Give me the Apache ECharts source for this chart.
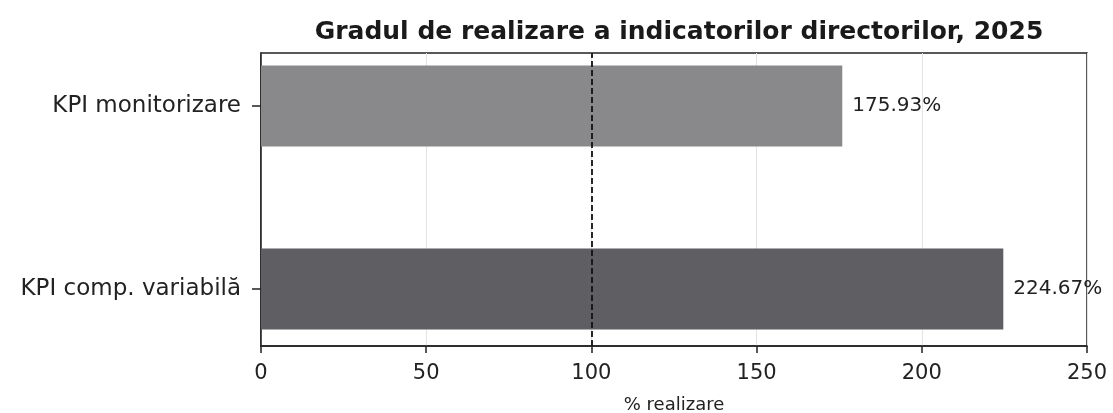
<!DOCTYPE html>
<html>
<head>
<meta charset="utf-8">
<script src="https://cdn.jsdelivr.net/npm/echarts@6/dist/echarts.min.js"></script>
<style>
  html, body { margin: 0; padding: 0; background: #fff; }
  #chart { width: 1113px; height: 413px; }
</style>
</head>
<body>
<div id="chart"></div>
<script>
// date
const categories = ['KPI monitorizare', 'KPI comp. variabilă'];
const values = [175.93, 224.67];
const barColors = ['#89898b', '#5f5f63'];
const xTicks = [0, 50, 100, 150, 200, 250];
const targetLine = 100;

const FONT = "'DejaVu Sans', sans-serif";
const chart = echarts.init(document.getElementById('chart'));

chart.setOption({
    animation: false,
    title: {
        text: 'Gradul de realizare a indicatorilor directorilor, 2025',
        left: 674,
        textAlign: 'center',
        top: 15,
        textStyle: { fontFamily: FONT, fontSize: 25, fontWeight: 'bold', color: '#1a1a1a' }
    },
    grid: [
        // cadrul graficului + axa X
        { left: 261, right: 26, top: 53, bottom: 67, outerBoundsMode: 'none', show: true, borderColor: '#222', borderWidth: 1.5, backgroundColor: 'transparent' },
        // zona barelor (benzi de categorii)
        { left: 261, right: 26, top: 14.5, bottom: 32.5, outerBoundsMode: 'none' }
    ],
    xAxis: [{
        gridIndex: 0,
        type: 'value',
        min: 0,
        max: 250,
        interval: 50,
        name: '% realizare',
        nameLocation: 'middle',
        nameGap: 50,
        nameTextStyle: { fontFamily: FONT, fontSize: 18, color: '#222' },
        axisLine: { show: true, lineStyle: { color: '#222', width: 1.5 } },
        axisTick: { show: true, length: 7, lineStyle: { color: '#222', width: 1.5 } },
        axisLabel: { fontFamily: FONT, fontSize: 21, color: '#222', margin: 17 },
        splitLine: { show: true, lineStyle: { color: '#e3e3e3', width: 1 } }
    }, {
        gridIndex: 1,
        type: 'value',
        min: 0,
        max: 250,
        show: false
    }],
    yAxis: [{
        gridIndex: 0,
        type: 'value',
        min: 0,
        max: 1,
        axisLine: { show: true, lineStyle: { color: '#222', width: 1.5 } },
        axisTick: { show: false },
        axisLabel: { show: false },
        splitLine: { show: false }
    }, {
        gridIndex: 1,
        type: 'category',
        inverse: true,
        data: categories,
        axisLine: { show: false },
        axisTick: { show: true, alignWithLabel: true, length: 9, lineStyle: { color: '#222', width: 1.5 } },
        axisLabel: { fontFamily: FONT, fontSize: 23, color: '#222', margin: 20 }
    }],
    series: [{
        type: 'bar',
        xAxisIndex: 1,
        yAxisIndex: 1,
        barWidth: 81,
        data: values.map((v, i) => ({ value: v, itemStyle: { color: barColors[i] } })),
        label: {
            show: true,
            position: 'right',
            distance: 10,
            formatter: p => p.value.toFixed(2) + '%',
            fontFamily: FONT,
            fontSize: 20,
            color: '#222'
        },
        z: 2
    }, {
        // linia de referinta 100%
        type: 'line',
        xAxisIndex: 0,
        yAxisIndex: 0,
        data: [],
        markLine: {
            silent: true,
            symbol: 'none',
            label: { show: false },
            lineStyle: { type: [6, 3], color: '#111', width: 1.8 },
            data: [{ xAxis: targetLine }]
        },
        z: 5
    }]
});
</script>
</body>
</html>
